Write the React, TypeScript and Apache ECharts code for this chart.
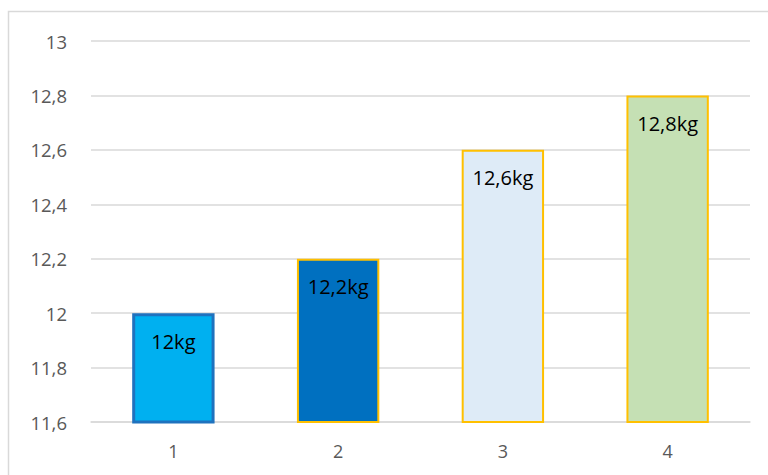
import React, { useEffect, useRef } from "react";
import * as echarts from "echarts";

const categories = ["1", "2", "3", "4"];
const values = [12, 12.2, 12.6, 12.8];
const labels = ["12kg", "12,2kg", "12,6kg", "12,8kg"];
const fills = ["#00B0F0", "#0070C0", "#DEEBF7", "#C5E0B4"];
const borders = ["#1F72BE", "#FFC000", "#FFC000", "#FFC000"];
const borderWidths = [3, 2, 2, 2];
const yMin = 11.6;
const yMax = 13;
const yStep = 0.2;

export default function App() {
  const ref = useRef<HTMLDivElement>(null);
  useEffect(() => {
    if (!ref.current) return;
    const chart = echarts.init(ref.current, null, { renderer: "svg" });
    const font = "Open Sans, Liberation Sans, sans-serif";
    chart.setOption({
      animation: false,
      backgroundColor: "#ffffff",
      graphic: [
        {
          type: "rect",
          shape: { x: 8.5, y: 11.5, width: 800, height: 500 },
          style: { fill: "none", stroke: "#D9D9D9", lineWidth: 1.5 },
          silent: true,
          z: -1,
        },
      ],
      grid: { left: 91, right: 18, top: 41, bottom: 53, containLabel: false },
      xAxis: {
        type: "category",
        data: categories,
        axisLine: { show: true, lineStyle: { color: "#D9D9D9", width: 1.5 } },
        axisTick: { show: false },
        axisLabel: { color: "#595959", fontSize: 18, fontFamily: font, margin: 20 },
      },
      yAxis: {
        type: "value",
        min: yMin,
        max: yMax,
        interval: yStep,
        axisLine: { show: false },
        axisTick: { show: false },
        splitLine: { lineStyle: { color: "#D9D9D9", width: 1.5 } },
        axisLabel: {
          color: "#595959",
          fontSize: 18.5,
          fontFamily: font,
          margin: 24,
          formatter: (v: number) => {
            const r = Math.round(v * 10) / 10;
            return String(r).replace(".", ",");
          },
        },
      },
      series: [
        {
          type: "bar",
          barWidth: "50%",
          data: values.map((v, i) => ({
            value: v,
            itemStyle: {
              color: fills[i],
              borderColor: borders[i],
              borderWidth: borderWidths[i],
            },
            label: {
              show: true,
              position: "insideTop",
              distance: 18,
              formatter: labels[i],
              color: "#000000",
              fontSize: 20,
              fontFamily: font,
            },
          })),
        },
      ],
    });
    return () => chart.dispose();
  }, []);
  return (
    <div
      ref={ref}
      style={{ position: "fixed", left: 0, top: 0, width: 768, height: 475 }}
    />
  );
}
